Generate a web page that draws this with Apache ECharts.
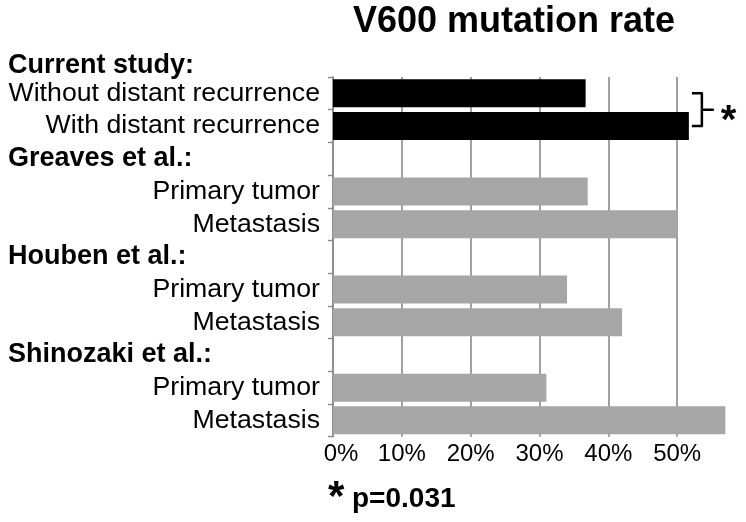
<!DOCTYPE html>
<html>
<head>
<meta charset="utf-8">
<script src="https://cdn.jsdelivr.net/npm/echarts@6/dist/echarts.min.js"></script>
<style>html,body{margin:0;padding:0;background:#fff}#c{width:746px;height:522px}</style>
</head>
<body>
<div id="c"></div>
<script>
// ---- data ----
const titleText = "V600 mutation rate";
const firstHeader = "Current study:";
const categories = ["Without distant recurrence", "With distant recurrence", "Greaves et al.:", "Primary tumor", "Metastasis", "Houben et al.:", "Primary tumor", "Metastasis", "Shinozaki et al.:", "Primary tumor", "Metastasis"];
const isHeader = [false, false, true, false, false, true, false, false, true, false, false];
const values = [36.7, 51.7, null, 37.0, 50.0, null, 34.0, 42.0, null, 31.0, 57.0];
const isCurrentStudy = [true, true, false, false, false, false, false, false, false, false, false];
const xTicks = [0, 10, 20, 30, 40, 50, 60];
const pValueText = "p=0.031";
const starText = "*";

const FONT = "'Liberation Sans', Arial, Helvetica, sans-serif";
const chart = echarts.init(document.getElementById('c'), null, {renderer: 'canvas'});

const option = {
  animation: false,
  backgroundColor: '#ffffff',
  title: [
    {text: titleText, left: 348, top: -1, textStyle: {fontFamily: FONT, fontSize: 36, fontWeight: 'bold', color: '#000'}},
    {text: firstHeader, left: 3, top: 47, textStyle: {fontFamily: FONT, fontSize: 27, fontWeight: 'bold', color: '#000'}},
    {text: starText, left: 323, top: 472, textStyle: {fontFamily: FONT, fontSize: 42, fontWeight: 'bold', color: '#000'}},
    {text: pValueText, left: 347, top: 480, textStyle: {fontFamily: FONT, fontSize: 28, fontWeight: 'bold', color: '#000'}}
  ],
  grid: {left: 333, right: 0, top: 77, bottom: 85.3, containLabel: false},
  xAxis: {
    type: 'value', min: xTicks[0], max: xTicks[xTicks.length - 1], interval: 10,
    axisLine: {show: false}, axisTick: {show: false},
    splitLine: {show: true, showMaxLine: false, lineStyle: {color: '#8a8a8a', width: 1.6}},
    axisLabel: {
      showMaxLabel: false, margin: 6,
      fontFamily: FONT, fontSize: 24, color: '#000',
      formatter: v => v === 0 ? '{z|0%}' : v + '%',
      rich: {z: {fontFamily: FONT, fontSize: 24, color: '#000', padding: [0, 0, 0, 16]}}
    }
  },
  yAxis: {
    type: 'category', inverse: true, data: categories,
    axisLine: {show: true, lineStyle: {color: '#8a8a8a', width: 1.6}},
    axisTick: {show: true, length: 5, lineStyle: {color: '#8a8a8a', width: 1.4}},
    axisLabel: {
      interval: 0, margin: 13, fontFamily: FONT, fontSize: 26.7, color: '#000',
      formatter: (v, i) => isHeader[i] ? '{h|' + v + '}' : v,
      rich: {h: {fontFamily: FONT, fontSize: 27, fontWeight: 'bold', color: '#000', width: 312, align: 'left'}}
    }
  },
  series: [{
    type: 'bar', barWidth: 28,
    data: values.map((v, i) => ({value: v, itemStyle: {color: isCurrentStudy[i] ? '#000000' : '#a6a6a6'}})),
    silent: true
  }]
};
chart.setOption(option);

// significance bracket between the two current-study bars
const pa = chart.convertToPixel({seriesIndex: 0}, [values[1], 0]);
const pb = chart.convertToPixel({seriesIndex: 0}, [values[1], 1]);
const x0 = pa[0] + 3, xv = x0 + 10, xp = x0 + 21;
const ya = pa[1], yb = pb[1], ym = (ya + yb) / 2;
chart.setOption({
  graphic: [
    {type: 'polyline', shape: {points: [[x0, ya], [xv, ya], [xv, ym], [xp, ym], [xv, ym], [xv, yb], [x0, yb]]},
     style: {stroke: '#000', lineWidth: 2.5, fill: null, lineJoin: 'round'}},
    {type: 'text', x: xp + 8, y: ym - 8, style: {text: starText, fontFamily: FONT, fontSize: 40, fontWeight: 'bold', fill: '#000'}}
  ]
});
</script>
</body>
</html>
